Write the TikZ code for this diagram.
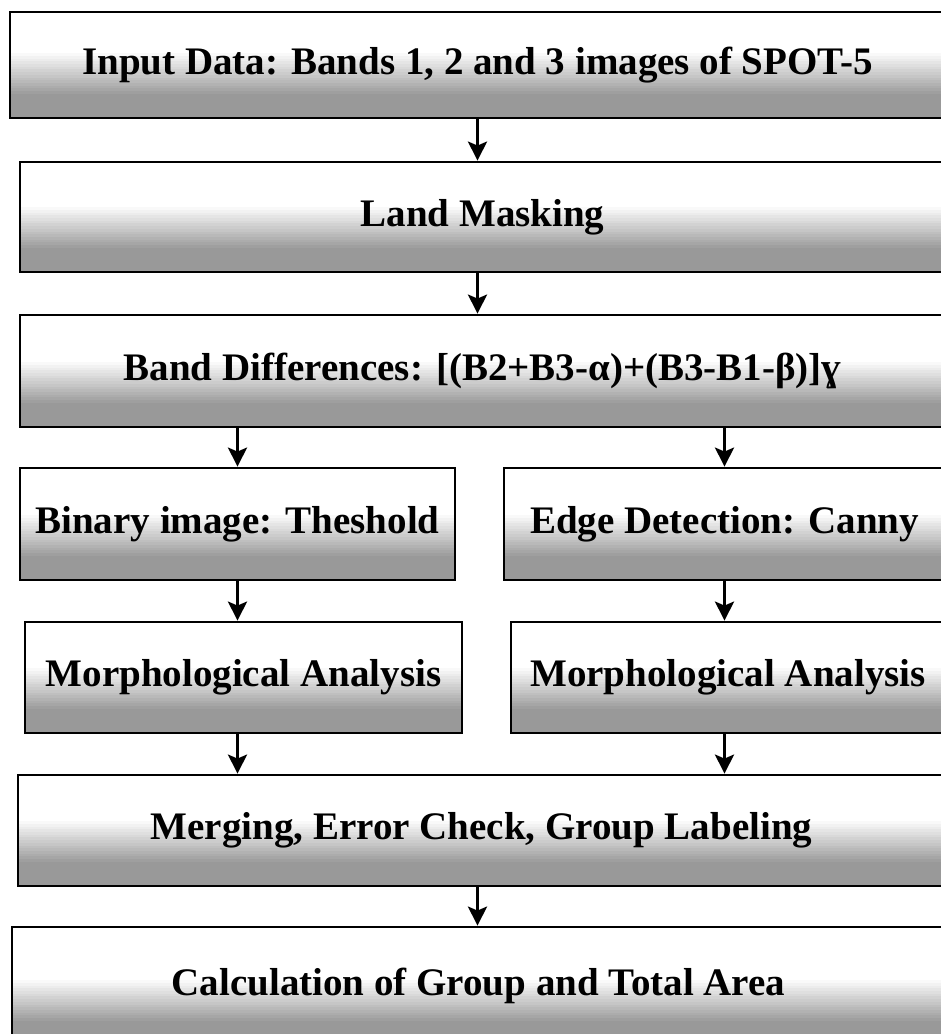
\documentclass[tikz,border=0pt]{standalone}
\usepackage{fontspec}
\setmainfont{Liberation Serif}
\usetikzlibrary{arrows.meta}
\begin{document}
\begin{tikzpicture}[x=1pt,y=1pt,
	box/.style={draw,line width=2.8pt,fill=white,inner sep=0pt,font=\fontsize{39}{43}\selectfont\bfseries,
		path picture={\foreach \i in {0,...,23}{
			\pgfmathsetmacro\tone{min(40,40*(24-\i)/16)}
			\fill[black!\tone] ([yshift={\i*2.7pt}]path picture bounding box.south west) rectangle ([yshift={(\i+1)*2.7pt+0.4pt}]path picture bounding box.south east);}}},
	arr/.style={line width=3.2pt,-{Stealth[length=19pt,width=19pt,inset=4pt]}}
]
\useasboundingbox (0,0) rectangle (941,-1034);
\begin{scope}
\clip (0,0) rectangle (941,-1034);
\node[box,minimum width=935pt,minimum height=106pt] (input) at (477.5,-65) {Input Data: Bands 1, 2 and 3 images of SPOT-5};
\node[box,minimum width=925pt,minimum height=110pt] (mask) at (482.5,-217) {Land Masking};
\node[box,minimum width=925pt,minimum height=112pt] (diff) at (482.5,-371) {Band Differences: [(B2+B3-α)+(B3-B1-β)]ɣ};
\node[box,minimum width=435pt,minimum height=112pt] (binary) at (237.5,-524) {Binary image: Theshold};
\node[box,minimum width=441pt,minimum height=112pt] (edge) at (724.5,-524) {Edge Detection: Canny};
\node[box,minimum width=437pt,minimum height=111pt] (morphL) at (243.5,-677.5) {Morphological Analysis};
\node[box,minimum width=434pt,minimum height=111pt] (morphR) at (728,-677.5) {Morphological Analysis};
\node[box,minimum width=927pt,minimum height=111pt] (merge) at (481.5,-830.5) {Merging, Error Check, Group Labeling};
\node[box,minimum width=933pt,minimum height=118pt] (calc) at (478.5,-986) {Calculation of Group and Total Area};
\end{scope}
% arrows
\draw[arr] (input) -- (input |- mask.north);
\draw[arr] (input |- mask.south) -- (input |- diff.north);
\draw[arr] (diff.south -| binary) -- (binary);
\draw[arr] (diff.south -| edge) -- (edge);
\draw[arr] (binary) -- (binary |- morphL.north);
\draw[arr] (edge) -- (edge |- morphR.north);
\draw[arr] (binary |- morphL.south) -- (binary |- merge.north);
\draw[arr] (edge |- morphR.south) -- (edge |- merge.north);
\draw[arr] (merge.south -| input) -- (input |- calc.north);
\end{tikzpicture}
\end{document}
